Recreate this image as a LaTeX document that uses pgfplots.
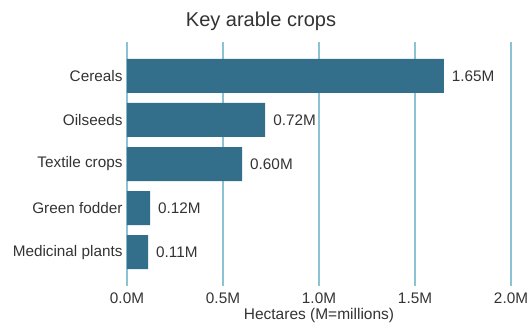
\documentclass[border=0pt]{standalone}
\usepackage{pgfplots}
\pgfplotsset{compat=1.18}
\usepackage{fontspec}
\setmainfont{Liberation Sans}
\definecolor{barc}{HTML}{336E8A}
\definecolor{gridc}{HTML}{8CC2D4}
\definecolor{txt}{HTML}{333333}
\begin{document}
\begin{tikzpicture}[x=1pt,y=1pt]
\useasboundingbox (0,0) rectangle (531,327);
\node[font=\fontsize{20}{24}\selectfont, text=txt] at (261,306) {Key arable crops};
\begin{axis}[
  at={(127pt,41pt)}, anchor=south west,
  scale only axis, width=384pt, height=244pt,
  xmin=0, xmax=2, ymin=-0.77, ymax=4.77,
  axis line style={draw=none},
  tick style={draw=none},
  major tick length=0pt,
  xtick={0,0.5,1,1.5,2},
  xticklabels={0.0M,0.5M,1.0M,1.5M,2.0M},
  ytick={0,1,2,3,4},
  yticklabels={Medicinal plants,Green fodder,Textile crops,Oilseeds,Cereals},
  ticklabel style={font=\fontsize{15.3}{17}\selectfont, text=txt},
  xticklabel style={yshift=-3pt},
  yticklabel style={xshift=-1pt},
  xmajorgrids,
  major grid style={gridc, line width=1.3pt},
  xlabel={Hectares (M=millions)},
  xlabel style={font=\fontsize{15.5}{17}\selectfont, text=txt, at={(axis description cs:0.5,0)}, anchor=north, yshift=-19pt},
  xbar, bar width=34pt,
  point meta=explicit symbolic,
  nodes near coords,
  nodes near coords style={font=\fontsize{15.3}{17}\selectfont, text=txt, anchor=west, xshift=4.5pt},
]
\addplot[fill=barc, draw=none] coordinates {
  (0.11,0) [0.11M]
  (0.12,1) [0.12M]
  (0.60,2) [0.60M]
  (0.72,3) [0.72M]
  (1.65,4) [1.65M]
};
\end{axis}
\end{tikzpicture}
\end{document}
